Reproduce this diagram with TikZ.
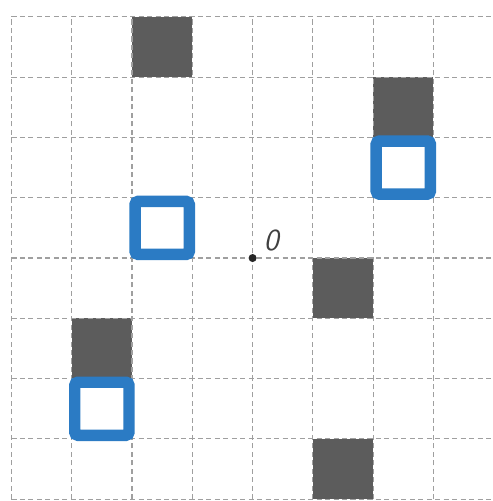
\documentclass[tikz,border=0pt]{standalone}
\usepackage{tikz}
\usetikzlibrary{calc}
\definecolor{cellgray}{HTML}{5C5C5C}
\definecolor{markblue}{HTML}{2B7BC4}
\begin{document}
\begin{tikzpicture}[
        gridline/.style={gray!75, line width=0.55pt, dash pattern=on 2.4pt off 1.6pt},
        darkcell/.style={fill=cellgray},
        bluecell/.style={draw=markblue, line width=5.4pt, rounded corners=1.5pt},
        origlabel/.style={inner sep=0pt, anchor=base west, text=black!75, font=\sffamily\itshape\Large}]
    \useasboundingbox (-4.19,-4.03) rectangle (3.98,4.28);
    \fill[white] (-4.19,-4.03) rectangle (3.98,4.28);
    % dark cells
    \foreach \x/\y in {-2/3, 2/2, 1/-1, -3/-2, 1/-4}
        \fill[darkcell] (\x,\y) rectangle ++(1,1);
    % grid
    \draw[gridline] (-4,-4) grid (4,4);
    % blue cells
    \foreach \x/\y in {2/1, -2/0, -3/-3}
        \draw[bluecell] (\x+0.05,\y+0.06) rectangle ++(0.9,0.88);
    % origin
    \coordinate (O) at (0,0);
    \fill[black!85] (O) circle (1.9pt);
    \node[origlabel] (Olabel) at ($(O)+(0.18,0.13)$) {0};
\end{tikzpicture}
\end{document}
